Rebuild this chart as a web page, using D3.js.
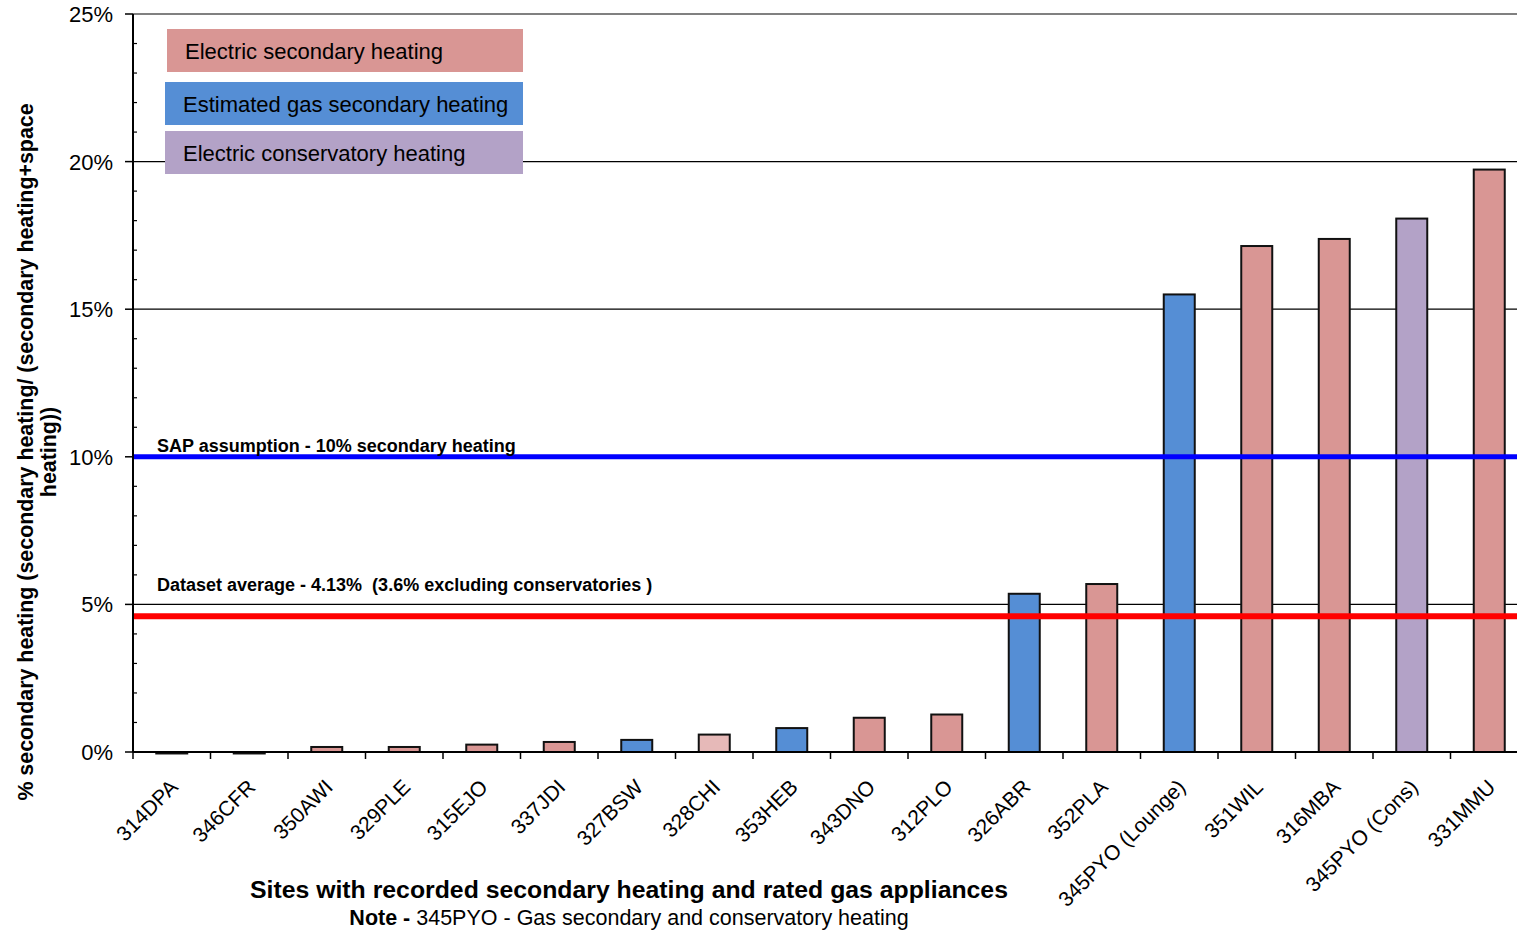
<!DOCTYPE html>
<html><head><meta charset="utf-8">
<script src="https://cdn.jsdelivr.net/npm/d3@7"></script>
<style>
body{margin:0;background:#fff;}
svg{display:block;font-family:"Liberation Sans",Arial,sans-serif;}
</style></head>
<body><svg id="chart" width="1517" height="933"></svg>
<script>
const categories = ["314DPA","346CFR","350AWI","329PLE","315EJO","337JDI","327BSW","328CHI","353HEB","343DNO","312PLO","326ABR","352PLA","345PYO (Lounge)","351WIL","316MBA","345PYO (Cons)","331MMU"];
const values = [-0.05,-0.05,0.17,0.17,0.25,0.34,0.41,0.59,0.81,1.16,1.27,5.36,5.69,15.5,17.14,17.38,18.07,19.73];
const types = ["elec","elec","elec","elec","elec","elec","gas","elecLight","gas","elec","elec","gas","elec","gas","elec","elec","cons","elec"];
const legendLabels = ["Electric secondary heating","Estimated gas secondary heating","Electric conservatory heating"];
const yTicks = [0,5,10,15,20,25];
const sapLine = 10;
const avgLine = 4.6;

const colors = {elec:"#D99694", gas:"#558ED5", cons:"#B3A2C7", elecLight:"#E6B9B8"};
const legendColors = [colors.elec, colors.gas, colors.cons];

const svg = d3.select("#chart");
const pLeft = 133, pRight = 1528, pTop = 14, pBottom = 752;

const x = d3.scaleBand().domain(categories).range([pLeft, pRight]).paddingInner(0.6).paddingOuter(0.3);
const xb = d3.scaleBand().domain(categories).range([pLeft, pRight]);
const y = d3.scaleLinear().domain([0,25]).range([pBottom, pTop]);

// gridlines
svg.append("g").selectAll("line").data(yTicks.filter(d=>d>0)).join("line")
  .attr("x1", pLeft).attr("x2", 1517)
  .attr("y1", d=>y(d)).attr("y2", d=>y(d))
  .attr("stroke", d=>d===25?"#808080":"#000").attr("stroke-width", d=>d===25?2:1.2);

// bars
svg.append("g").selectAll("rect").data(categories).join("rect")
  .attr("x", d=>x(d))
  .attr("width", x.bandwidth())
  .attr("y", (d,i)=>y(Math.max(0, values[i])))
  .attr("height", (d,i)=>Math.abs(y(values[i]) - y(0)))
  .attr("fill", (d,i)=>colors[types[i]])
  .attr("stroke", "#111").attr("stroke-width", 2);

// reference lines
svg.append("line").attr("x1", pLeft).attr("x2", 1517).attr("y1", y(sapLine)).attr("y2", y(sapLine))
  .attr("stroke", "#0000FF").attr("stroke-width", 5);
svg.append("line").attr("x1", pLeft).attr("x2", 1517).attr("y1", y(avgLine)).attr("y2", y(avgLine))
  .attr("stroke", "#FF0000").attr("stroke-width", 6);

// y axis
const yAxis = svg.append("g").attr("transform", `translate(${pLeft},0)`);
yAxis.append("line").attr("x1",0).attr("x2",0).attr("y1",pTop).attr("y2",pBottom).attr("stroke","#000").attr("stroke-width",2);
yAxis.selectAll(".maj").data(yTicks).join("line").attr("class","maj")
  .attr("x1",-8).attr("x2",0).attr("y1",d=>y(d)).attr("y2",d=>y(d)).attr("stroke","#000").attr("stroke-width",1.5);
yAxis.selectAll(".min").data(d3.range(0,26).filter(d=>d%5!==0)).join("line").attr("class","min")
  .attr("x1",0).attr("x2",4).attr("y1",d=>y(d)).attr("y2",d=>y(d)).attr("stroke","#000").attr("stroke-width",1.2);
yAxis.selectAll("text").data(yTicks).join("text")
  .attr("x",-20).attr("y",d=>y(d)).attr("dy","0.36em").attr("text-anchor","end")
  .attr("font-size",22).attr("fill","#000").text(d=>d+"%");

// x axis
svg.append("line").attr("x1",pLeft).attr("x2",1517).attr("y1",pBottom).attr("y2",pBottom).attr("stroke","#000").attr("stroke-width",2);
svg.append("g").selectAll("line").data(categories).join("line")
  .attr("x1",d=>xb(d)).attr("x2",d=>xb(d)).attr("y1",pBottom).attr("y2",pBottom+7)
  .attr("stroke","#000").attr("stroke-width",1.5);
svg.append("g").selectAll("text").data(categories).join("text")
  .attr("transform", d=>`translate(${xb(d)+xb.bandwidth()/2-3},${pBottom+26}) rotate(-45)`)
  .attr("text-anchor","end").attr("dy","0.7em")
  .attr("font-size",21).attr("fill","#000").text(d=>d);

// legend
const legY = [29, 82, 131];
const legX = [167, 165, 165];
legendLabels.forEach((lab,i)=>{
  svg.append("rect").attr("x",legX[i]).attr("y",legY[i]).attr("width",523-legX[i]).attr("height",43).attr("fill",legendColors[i]);
  svg.append("text").attr("x",legX[i]+18).attr("y",legY[i]+22).attr("dy","0.36em")
    .attr("font-size",22).attr("fill","#000").text(lab);
});

// annotations
svg.append("text").attr("x",157).attr("y",452).attr("font-size",18).attr("font-weight","bold").attr("fill","#000")
  .text("SAP assumption - 10% secondary heating");
svg.append("text").attr("x",157).attr("y",591).attr("font-size",18).attr("font-weight","bold").attr("fill","#000")
  .attr("xml:space","preserve").text("Dataset average - 4.13%  (3.6% excluding conservatories )");

// axis titles
const yt = svg.append("text").attr("transform","translate(33,452) rotate(-90)").attr("text-anchor","middle")
  .attr("font-size",21.4).attr("font-weight","bold").attr("fill","#000");
yt.append("tspan").attr("x",0).attr("y",0).text("% secondary heating (secondary heating/ (secondary heating+space");
yt.append("tspan").attr("x",0).attr("y",0).attr("dy","1.08em").text("heating))");

svg.append("text").attr("x",629).attr("y",898).attr("text-anchor","middle").attr("font-size",24.8).attr("font-weight","bold")
  .attr("fill","#000").text("Sites with recorded secondary heating and rated gas appliances");
const note = svg.append("text").attr("x",629).attr("y",925).attr("text-anchor","middle").attr("font-size",21.5).attr("fill","#000");
note.append("tspan").attr("font-weight","bold").text("Note - ");
note.append("tspan").text("345PYO - Gas secondary and conservatory heating");
</script></body></html>
